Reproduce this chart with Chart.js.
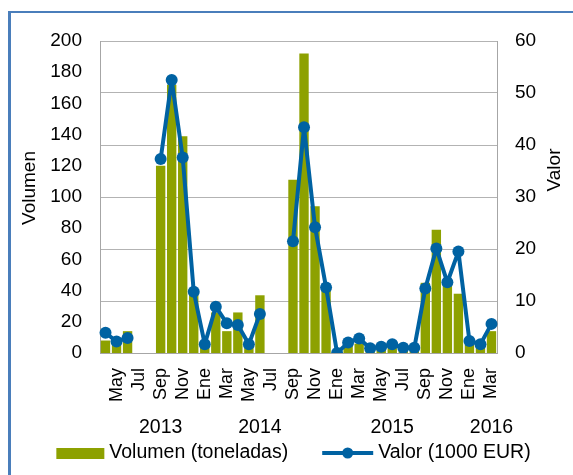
<!DOCTYPE html>
<html>
<head>
  <title>Volumen y valor</title>
  <script src="https://cdn.jsdelivr.net/npm/chart.js"></script>
  <style>
    body { margin: 0; background: #fff; }
    #wrap { position: relative; width: 573px; height: 475px; overflow: hidden; }
    #frame { position: absolute; left: 8px; top: 11px; width: 700px; height: 600px;
             border-left: 3px solid #4A7EBB; border-top: 2px solid #4A7EBB; pointer-events: none; }
  </style>
</head>
<body>
  <div id="wrap">
    <canvas id="myChart" width="573" height="475"></canvas>
    <div id="frame"></div>
  </div>

  <script>
    // abr 2013 - mar 2016
    const meses = [
      'Abr', 'May', 'Jun', 'Jul', 'Ago', 'Sep', 'Oct', 'Nov', 'Dic',
      'Ene', 'Feb', 'Mar', 'Abr', 'May', 'Jun', 'Jul', 'Ago', 'Sep', 'Oct', 'Nov', 'Dic',
      'Ene', 'Feb', 'Mar', 'Abr', 'May', 'Jun', 'Jul', 'Ago', 'Sep', 'Oct', 'Nov', 'Dic',
      'Ene', 'Feb', 'Mar'
    ];
    const anios = [
      '', '', '', '', '', '2013', '', '', '', '', '', '', '', '', '2014', '', '', '',
      '', '', '', '', '', '', '', '', '2015', '', '', '', '', '', '', '', '', '2016'
    ];
    const volumen = [
      8, 6, 14, null, null, 120, 172, 139, 40,
      6, 26, 14, 26, 5, 37, null, null, 111, 192, 94, 40,
      1, 6, 6, 3, 3, 4, 3, 3, 45, 79, 46, 38,
      8, 5, 14
    ];
    const valor = [
      3.9, 2.2, 2.9, null, null, 37.3, 52.5, 37.6, 11.8,
      1.7, 8.9, 5.7, 5.4, 1.7, 7.5, null, null, 21.5, 43.4, 24.2, 12.6,
      0, 2.0, 2.8, 0.9, 1.2, 1.7, 1.0, 1.0, 12.4, 20.1, 13.6, 19.5,
      2.3, 1.7, 5.6
    ];
    const ticksVolumen = [0, 20, 40, 60, 80, 100, 120, 140, 160, 180, 200];

    const verde = '#8DA100';
    const azul = '#0062A2';
    const familia = 'Liberation Sans';

    Chart.defaults.font = { family: familia, size: 19 };
    Chart.defaults.color = '#000';

    // titulos de ejes y leyenda (Excel los pone un poco a su aire)
    const extras = {
      id: 'extras',
      afterDraw(chart) {
        const { ctx, chartArea: a, width } = chart;
        const cy = (a.top + a.bottom) / 2;
        ctx.save();
        ctx.fillStyle = '#000';
        ctx.textAlign = 'center';
        ctx.textBaseline = 'middle';
        ctx.font = '19px "' + familia + '"';
        [['Volumen', a.left - 70, cy - 9], ['Valor', a.right + 58, cy - 27]].forEach(([t, x, y]) => {
          ctx.save();
          ctx.translate(x, y);
          ctx.rotate(-Math.PI / 2);
          ctx.fillText(t, 0, 0);
          ctx.restore();
        });

        const ds = chart.data.datasets;
        ctx.font = '19.5px "' + familia + '"';
        ctx.textAlign = 'left';
        const w1 = ctx.measureText(ds[0].label).width;
        const w2 = ctx.measureText(ds[1].label).width;
        const total = 48 + 5 + w1 + 34 + 51 + 5 + w2;
        const y = 453;
        let x = width / 2 + 7 - total / 2;
        ctx.fillStyle = verde;
        ctx.fillRect(x, y - 5, 48, 11);
        ctx.fillStyle = '#000';
        ctx.fillText(ds[0].label, x + 53, y);
        x += 48 + 5 + w1 + 34;
        ctx.strokeStyle = azul;
        ctx.lineWidth = 4;
        ctx.beginPath(); ctx.moveTo(x, y); ctx.lineTo(x + 51, y); ctx.stroke();
        ctx.fillStyle = azul;
        ctx.beginPath(); ctx.arc(x + 25.5, y, 5.5, 0, Math.PI * 2); ctx.fill();
        ctx.fillStyle = '#000';
        ctx.fillText(ds[1].label, x + 56, y);
        ctx.restore();
      }
    };

    const ctx = document.getElementById('myChart').getContext('2d');
    const myChart = new Chart(ctx, {
      data: {
        labels: meses,
        datasets: [{
          type: 'bar',
          label: 'Volumen (toneladas)',
          data: volumen,
          backgroundColor: verde,
          yAxisID: 'y',
          order: 1,
          categoryPercentage: 1,
          barPercentage: 0.85
        }, {
          type: 'line',
          label: 'Valor (1000 EUR)',
          data: valor,
          borderColor: azul,
          backgroundColor: azul,
          borderWidth: 4,
          borderJoinStyle: 'round',
          pointRadius: 6,
          pointBorderWidth: 0,
          pointBackgroundColor: azul,
          yAxisID: 'y1',
          order: 0,
          tension: 0
        }]
      },
      plugins: [extras],
      options: {
        responsive: false,
        animation: false,
        layout: { padding: { left: 15, right: 0, top: 41, bottom: 37 } },
        plugins: {
          tooltip: { enabled: false },
          legend: { display: false }
        },
        scales: {
          x: {
            type: 'category',
            offset: true,
            grid: { display: false, drawTicks: false },
            border: { display: true, color: '#A6A6A6', width: 1 },
            ticks: {
              autoSkip: false,
              maxRotation: 90,
              minRotation: 90,
              padding: 15,
              font: { size: 18 },
              callback: (v, i) => (i % 2 === 1 ? meses[i] : '')
            },
            afterFit: (s) => { s.height = 56; s.paddingLeft = 0; s.paddingRight = 0; }
          },
          x2: {
            type: 'category',
            labels: anios,
            position: 'bottom',
            offset: true,
            grid: { display: false, drawTicks: false },
            border: { display: false },
            ticks: { autoSkip: false, maxRotation: 0, minRotation: 0, padding: 7, font: { size: 19.5 } },
            afterFit: (s) => { s.height = 29; s.paddingLeft = 0; s.paddingRight = 0; }
          },
          y: {
            position: 'left',
            min: 0,
            max: 200,
            afterBuildTicks: (s) => { s.ticks = ticksVolumen.map(v => ({ value: v })); },
            grid: { display: false, drawTicks: false },
            border: { display: true, color: '#A6A6A6', width: 1 },
            ticks: { padding: 18 },
            afterFit: (s) => { s.width = 85; }
          },
          y1: {
            position: 'right',
            min: 0,
            max: 60,
            ticks: { stepSize: 10, padding: 18 },
            grid: { color: '#B3B3B3', lineWidth: 1, drawTicks: false },
            border: { display: true, color: '#A6A6A6', width: 1 },
            afterFit: (s) => { s.width = 76; }
          }
        }
      }
    });
  </script>
</body>
</html>
